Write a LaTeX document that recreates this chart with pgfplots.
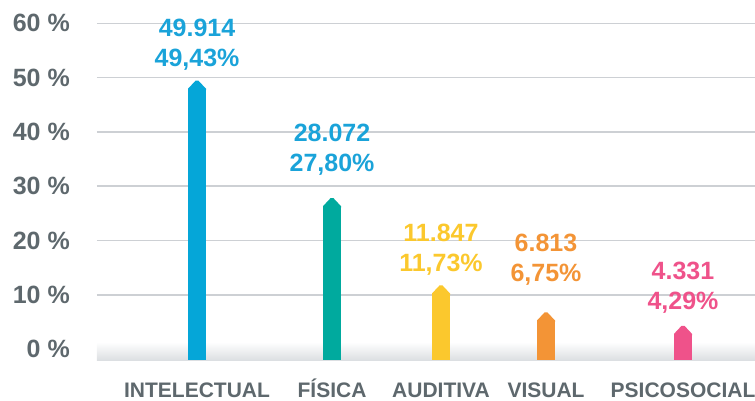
\documentclass[border=0pt]{standalone}
\usepackage{pgfplots}
\pgfplotsset{compat=1.18}
\usepackage{fontspec}
\setmainfont{Liberation Sans}
\definecolor{cblue}{HTML}{05A6D8}
\definecolor{cteal}{HTML}{00AA9E}
\definecolor{cyellow}{HTML}{FBC82D}
\definecolor{corange}{HTML}{F39436}
\definecolor{cpink}{HTML}{EF528A}
\definecolor{lblue}{HTML}{1AA3D9}
\definecolor{tickgray}{HTML}{5E686D}
\definecolor{gridgray}{HTML}{CDD0D4}
\definecolor{bandgray}{HTML}{DCDFE2}
\pgfdeclareplotmark{arrowtip}{%
  \pgfpathmoveto{\pgfqpoint{-9pt}{-9.5pt}}%
  \pgfpathlineto{\pgfqpoint{-9pt}{-8pt}}%
  \pgfpathlineto{\pgfqpoint{-1.5pt}{0pt}}%
  \pgfpathlineto{\pgfqpoint{1.5pt}{0pt}}%
  \pgfpathlineto{\pgfqpoint{9pt}{-8pt}}%
  \pgfpathlineto{\pgfqpoint{9pt}{-9.5pt}}%
  \pgfpathclose\pgfusepathqfill}
% #1 x position, #2 percent, #3 count, #4 bar colour, #5 label colour, #6 label shift
\newcommand{\cat}[6]{%
  \addplot[ybar, bar width=18pt, bar shift=0pt, fill=#4, draw=none] coordinates {(#1,-2)};
  \addplot[ybar, bar width=18pt, bar shift=0pt, fill=#4, draw=none, y filter/.expression={y-1.47}] coordinates {(#1,#2)};
  \addplot[only marks, mark=arrowtip, color=#4,
    nodes near coords={\pgfmathprintnumber[fixed,precision=0,1000 sep={.},assume math mode=true]{#3}\\\pgfmathprintnumber[fixed,fixed zerofill,precision=2,use comma,assume math mode=true]{#2}\%},
    every node near coord/.append style={anchor=south, inner sep=0pt, yshift=#6, align=center,
      text=#5, font=\fontsize{25}{30}\selectfont\bfseries}] coordinates {(#1,#2)};
}
\begin{document}
\begin{tikzpicture}
\path[use as bounding box] (-97pt,-40pt) rectangle (658pt,360pt);
\begin{axis}[
  at={(0,0)}, anchor=south west,
  scale only axis, width=658pt, height=360pt,
  xmin=97, xmax=755, ymin=-2, ymax=64.3,
  clip=false,
  axis line style={draw=none},
  major tick length=0pt,
  tick style={draw=none},
  ytick={10,20,30,40,50,60},
  yticklabels={10 \%,20 \%,30 \%,40 \%,50 \%,60 \%},
  extra y ticks={0},
  extra y tick labels={0 \%},
  extra y tick style={grid=none},
  ymajorgrids,
  grid style={draw=gridgray, line width=1.5pt},
  yticklabel style={anchor=east, inner sep=0pt, xshift=-27pt, text=tickgray, font=\fontsize{25}{30}\selectfont\bfseries},
  xtick={197,332,441,546,683},
  xticklabels={INTELECTUAL,FÍSICA,AUDITIVA,VISUAL,PSICOSOCIAL},
  xticklabel style={anchor=base, inner sep=0pt, yshift=-37pt, text=tickgray, font=\fontsize{21}{25}\selectfont\bfseries},
]
\fill[top color=white, bottom color=bandgray] (axis cs:97,-2) rectangle (axis cs:755,1.3);
\cat{197}{49.43}{49914}{cblue}{lblue}{10pt}
\cat{332}{27.80}{28072}{cteal}{lblue}{23pt}
\cat{441}{11.73}{11847}{cyellow}{cyellow}{10pt}
\cat{546}{6.75}{6813}{corange}{corange}{27pt}
\cat{683}{4.29}{4331}{cpink}{cpink}{12pt}
\end{axis}
\end{tikzpicture}
\end{document}
